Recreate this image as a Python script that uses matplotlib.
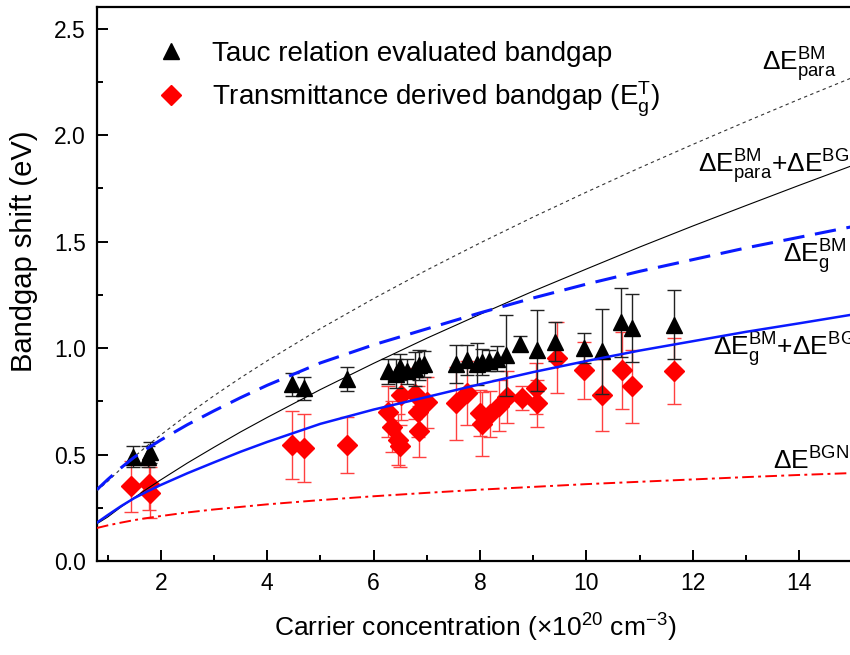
import numpy as np
import matplotlib
matplotlib.use("Agg")
import matplotlib.pyplot as plt
from matplotlib.lines import Line2D

plt.rcParams['font.family'] = 'Liberation Sans'
plt.rcParams['mathtext.fontset'] = 'custom'
plt.rcParams['mathtext.rm'] = 'Liberation Sans'
plt.rcParams['mathtext.it'] = 'Liberation Sans:italic'
plt.rcParams['mathtext.bf'] = 'Liberation Sans:bold'

# Tauc relation evaluated bandgap shift
tauc_n = [1.47, 1.76, 1.80, 4.47, 4.69, 5.50, 6.27, 6.42, 6.50, 6.62, 6.78, 6.86, 6.95,
          7.54, 7.76, 7.95, 8.03, 8.17, 8.32, 8.48, 8.76, 9.07, 9.40, 9.96, 10.29, 10.64,
          10.85, 11.64]
tauc_shift = [0.49, 0.49, 0.51, 0.83, 0.81, 0.855, 0.89, 0.88, 0.91, 0.89, 0.90, 0.92, 0.925,
              0.925, 0.945, 0.925, 0.935, 0.94, 0.95, 0.965, 1.02, 0.99, 1.03, 1.00, 0.985, 1.12,
              1.095, 1.11]
tauc_err = [0.05, 0.05, 0.05, 0.055, 0.055, 0.055, 0.06, 0.07, 0.06, 0.06, 0.08, 0.07, 0.06,
            0.09, 0.07, 0.10, 0.06, 0.05, 0.06, 0.19, 0.035, 0.19, 0.09, 0.07, 0.20, 0.16,
            0.16, 0.16]

# transmittance derived bandgap shift
trans_n = [1.44, 1.78, 1.80, 4.47, 4.69, 5.50, 6.27, 6.35, 6.45, 6.50, 6.52, 6.78, 6.84, 6.86,
           7.00, 7.54, 7.76, 8.00, 8.03, 8.18, 8.35, 8.51, 8.79, 9.05, 9.07, 9.45, 9.96, 10.29,
           10.66, 10.85, 11.64]
trans_shift = [0.35, 0.36, 0.32, 0.545, 0.53, 0.545, 0.70, 0.63, 0.57, 0.54, 0.78, 0.785, 0.70,
               0.61, 0.745, 0.74, 0.79, 0.695, 0.645, 0.69, 0.73, 0.77, 0.765, 0.81, 0.74, 0.955,
               0.895, 0.78, 0.895, 0.82, 0.89]
trans_err = [0.12, 0.12, 0.12, 0.16, 0.16, 0.13, 0.12, 0.12, 0.12, 0.10, 0.12, 0.12, 0.12,
             0.12, 0.12, 0.17, 0.15, 0.11, 0.15, 0.11, 0.12, 0.12, 0.055, 0.12, 0.11, 0.165,
             0.135, 0.17, 0.18, 0.17, 0.155]

# model curves
n_model = [0.8, 1, 1.25, 1.5, 1.75, 2, 2.5, 3, 3.5, 4, 5, 6, 7, 8, 9, 10, 11, 12, 13, 14, 15]
bm_para = [0.33, 0.373, 0.433, 0.489, 0.542, 0.592, 0.687, 0.776, 0.860, 0.940, 1.091, 1.232,
           1.366, 1.493, 1.615, 1.732, 1.846, 1.956, 2.063, 2.168, 2.27]
bm_para_bgn = [0.175, 0.206, 0.253, 0.297, 0.340, 0.381, 0.460, 0.534, 0.606, 0.674, 0.805,
               0.928, 1.046, 1.158, 1.267, 1.371, 1.474, 1.573, 1.669, 1.764, 1.857]
bm_g = [0.335, 0.382, 0.437, 0.487, 0.529, 0.568, 0.640, 0.705, 0.767, 0.825, 0.93, 1.015,
        1.09, 1.165, 1.235, 1.30, 1.36, 1.415, 1.47, 1.52, 1.57]
bm_g_bgn = [0.18, 0.215, 0.257, 0.295, 0.327, 0.357, 0.412, 0.463, 0.513, 0.559, 0.644, 0.711,
            0.770, 0.830, 0.887, 0.939, 0.988, 1.032, 1.076, 1.116, 1.157]
bgn = [0.155, 0.167, 0.180, 0.192, 0.202, 0.211, 0.228, 0.242, 0.254, 0.266, 0.286, 0.304,
       0.320, 0.335, 0.348, 0.361, 0.372, 0.383, 0.394, 0.404, 0.413]

fig = plt.figure(figsize=(8.5, 6.55), dpi=100)
ax = fig.add_axes([0.114, 0.1435, 0.889, 0.8455])

ax.errorbar(trans_n, trans_shift, yerr=trans_err, fmt='D', color='red', ms=10.5,
            ecolor=(1, 0.25, 0.25), elinewidth=1.0, capsize=5, capthick=1.0, zorder=2)
ax.errorbar(tauc_n, tauc_shift, yerr=tauc_err, fmt='^', color='black', ms=11,
            ecolor='#222222', elinewidth=1.0, capsize=5, capthick=1.0, zorder=3)

ax.plot(n_model, bm_para, color='#333333', lw=0.8, ls=(0, (3, 3)), zorder=4)
ax.plot(n_model, bm_para_bgn, color='black', lw=0.8, zorder=4)
ax.plot(n_model, bm_g, color='#0a1aff', lw=2.2, dashes=(7, 3.5), zorder=4)
ax.plot(n_model, bm_g_bgn, color='#0a1aff', lw=1.8, zorder=4)
ax.plot(n_model, bgn, color='red', lw=1.4, dashes=(6, 2.2, 1.5, 2.2), zorder=4)

lab = dict(fontsize=19, va='center', ha='left', clip_on=False)
ax.text(13.3, 2.33, r'$\Delta\mathrm{E}^{\mathrm{BM}}_{\mathrm{para}}$', **lab)
ax.text(12.1, 1.85, r'$\Delta\mathrm{E}^{\mathrm{BM}}_{\mathrm{para}}$+$\Delta\mathrm{E}^{\mathrm{BGN}}$', **lab)
ax.text(13.7, 1.43, r'$\Delta\mathrm{E}^{\mathrm{BM}}_{\mathrm{g}}$', **lab)
ax.text(12.37, 0.99, r'$\Delta\mathrm{E}^{\mathrm{BM}}_{\mathrm{g}}$+$\Delta\mathrm{E}^{\mathrm{BGN}}$', **lab)
ax.text(13.5, 0.47, r'$\Delta\mathrm{E}^{\mathrm{BGN}}$', **lab)

handles = [Line2D([], [], ls='none', marker='^', color='black', ms=11),
           Line2D([], [], ls='none', marker='D', color='red', ms=10.5)]
ax.legend(handles, ['Tauc relation evaluated bandgap',
                    r'Transmittance derived bandgap (E$_\mathrm{g}^\mathrm{T}$)'],
          loc='upper left', bbox_to_anchor=(0.046, 0.984), frameon=False, fontsize=20,
          handlelength=1.0, handletextpad=1.0, labelspacing=0.45)

ax.set_xlim(0.8, 15)
ax.set_ylim(0, 2.6)
ax.set_xticks([2, 4, 6, 8, 10, 12, 14])
ax.set_xticks([1, 3, 5, 7, 9, 11, 13, 15], minor=True)
ax.set_yticks([0.0, 0.5, 1.0, 1.5, 2.0, 2.5])
ax.set_yticks(np.arange(0.25, 2.6, 0.5), minor=True)
ax.yaxis.set_major_formatter(matplotlib.ticker.FormatStrFormatter('%.1f'))
ax.tick_params(which='both', direction='in', width=1.4, labelsize=16.5)
ax.tick_params(which='major', length=8, pad=8)
ax.tick_params(which='minor', length=4.5)
for s in ax.spines.values():
    s.set_linewidth(1.6)
ax.spines['right'].set_visible(False)

ax.set_xlabel(r'Carrier concentration ($\times$10$^{20}$ cm$^{-3}$)', fontsize=19, labelpad=12)
ax.set_ylabel('Bandgap shift (eV)', fontsize=21)
ax.yaxis.set_label_coords(-0.078, 0.56)

fig.savefig('out.png', dpi=100)
